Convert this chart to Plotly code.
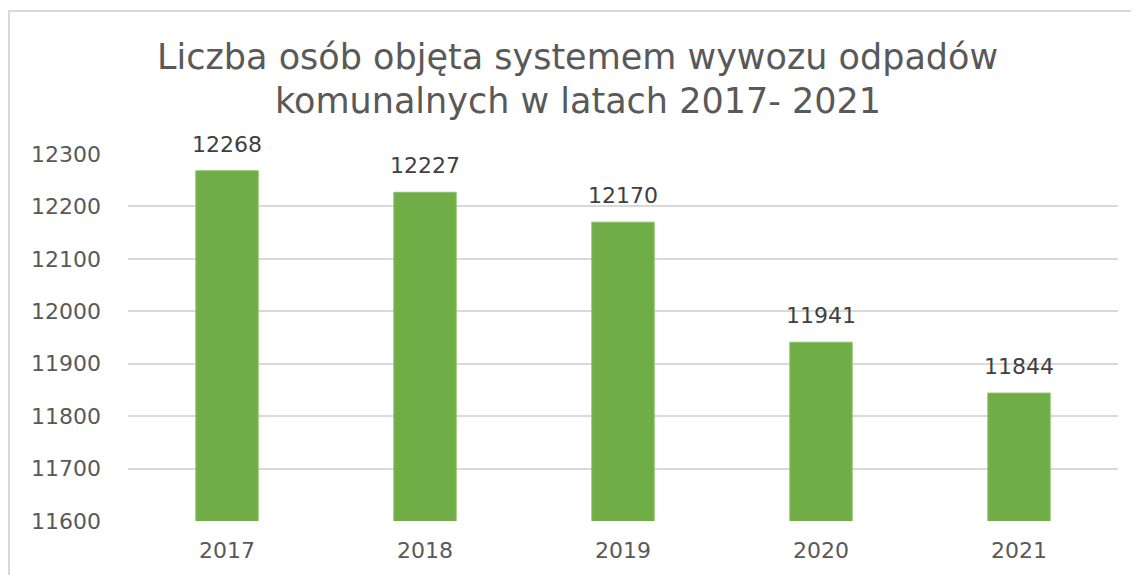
import plotly.graph_objects as go

# dane
lata = ['2017', '2018', '2019', '2020', '2021']
liczba_osob = [12268, 12227, 12170, 11941, 11844]
tytul_1 = 'Liczba osób objęta systemem wywozu odpadów'
tytul_2 = 'komunalnych w latach 2017- 2021'

SZARY = '#595959'
FONT = 'DejaVu Sans'

fig = go.Figure()

fig.add_trace(go.Bar(
    x=lata,
    y=liczba_osob,
    marker_color='#70AD47',
    marker_line=dict(color='#8cc06a', width=1),
    width=0.315,
    hoverinfo='x+y'
))

# etykiety danych nad słupkami (x = indeks kategorii)
for i, wartosc in enumerate(liczba_osob):
    fig.add_annotation(
        x=i, y=wartosc, text=str(wartosc),
        showarrow=False, yanchor='bottom', yshift=12,
        font=dict(family=FONT, size=22, color='#404040')
    )

# tytuł w dwóch liniach
for i, linia in enumerate([tytul_1, tytul_2]):
    fig.add_annotation(
        xref='paper', yref='paper', x=0.4545, y=1.0,
        yshift=97 - i * 44,
        text=linia, showarrow=False, xanchor='center', yanchor='middle',
        font=dict(family=FONT, size=35, color=SZARY)
    )

# ramka wykresu
fig.add_shape(
    type='rect', xref='paper', yref='paper',
    x0=-0.1202, x1=1.1, y0=-0.3, y1=1.3896,
    line=dict(color='#d9d9d9', width=2), layer='below'
)

fig.update_layout(
    width=1131, height=567,
    margin=dict(l=120, r=21, t=146, b=54),
    plot_bgcolor='white',
    paper_bgcolor='white',
    showlegend=False,
    font=dict(family=FONT, color=SZARY),
)

fig.update_yaxes(
    range=[11600, 12300], dtick=100, tickformat='d',
    showgrid=True, gridcolor='#d9d9d9', gridwidth=1.5,
    zeroline=False, showline=False, automargin=False,
    tickfont=dict(family=FONT, size=22, color=SZARY),
    ticklabelstandoff=26
)
fig.update_xaxes(
    type='category', range=[-0.5, 4.5],
    showline=False, showgrid=False, automargin=False,
    tickfont=dict(family=FONT, size=22, color=SZARY),
    ticklabelstandoff=14
)

fig.write_html('out.html')
